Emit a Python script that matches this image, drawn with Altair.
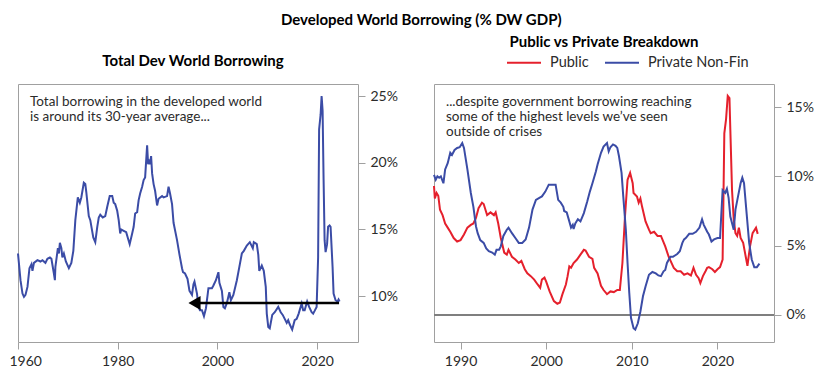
import altair as alt
import pandas as pd

BLUE = "#3B4CA6"
RED = "#E5202C"
FONT = "Lato"

# ---- Left panel: total developed-world borrowing (% GDP) ----
total_years = [1960.0, 1960.5, 1960.9, 1961.2, 1961.5, 1961.9, 1962.3, 1962.7, 1962.9, 1963.2,
               1963.9, 1964.5, 1964.9, 1965.5, 1965.9, 1966.4, 1966.7, 1967.2, 1967.4, 1967.5,
               1968.0, 1968.2, 1968.4, 1968.7, 1968.9, 1969.2, 1969.6, 1970.2, 1970.7, 1971.1,
               1971.5, 1972.0, 1972.4, 1972.7, 1973.2, 1973.5, 1973.7, 1974.2, 1974.5, 1975.1,
               1975.5, 1975.9, 1976.2, 1976.5, 1977.0, 1977.5, 1977.9, 1978.4, 1978.9, 1979.2,
               1979.5, 1979.9, 1980.2, 1980.5, 1980.7, 1981.2, 1981.7, 1982.4, 1982.9, 1983.2,
               1983.5, 1983.9, 1984.2, 1984.5, 1984.9, 1985.2, 1985.5, 1985.9, 1986.1, 1986.3,
               1986.5, 1986.7, 1986.9, 1987.2, 1987.5, 1987.9, 1988.2, 1988.9, 1989.2, 1989.9,
               1990.2, 1990.5, 1990.9, 1991.2, 1991.9, 1992.4, 1992.9, 1993.1, 1993.5, 1994.0,
               1994.4, 1994.9, 1995.2, 1995.4, 1995.9, 1996.2, 1996.5, 1996.9, 1997.3, 1997.7,
               1998.2, 1998.9, 1999.2, 1999.7, 2000.2, 2000.4, 2000.9, 2001.2, 2001.5, 2001.9,
               2002.4, 2002.7, 2003.2, 2003.9, 2004.4, 2004.9, 2005.3, 2005.9, 2006.5, 2007.1,
               2007.3, 2007.9, 2008.2, 2008.4, 2008.9, 2009.3, 2009.7, 2009.9, 2010.2, 2010.5,
               2011.0, 2011.5, 2012.2, 2012.7, 2013.1, 2013.5, 2013.9, 2014.2, 2014.5, 2015.0,
               2015.5, 2015.9, 2016.3, 2016.9, 2017.2, 2017.5, 2018.0, 2018.4, 2018.9, 2019.2,
               2019.5, 2019.9, 2020.2, 2020.4, 2020.7, 2020.9, 2021.1, 2021.3, 2021.5, 2021.7,
               2022.0, 2022.2, 2022.5, 2022.7, 2023.1, 2023.3, 2023.7, 2024.1, 2024.3, 2024.5]
total_vals = [13.2, 11.2, 10.2, 9.95, 10.1, 10.7, 12.1, 12.4, 11.9, 12.5,
              12.7, 12.6, 12.7, 12.5, 12.8, 12.9, 12.8, 11.7, 11.2, 12.2,
              13.6, 13.2, 14.0, 13.6, 12.9, 13.2, 12.6, 12.1, 12.5, 13.4,
              15.7, 17.4, 17.0, 17.4, 18.5, 18.4, 17.8, 16.0, 15.7, 14.4,
              14.05, 15.2, 15.9, 16.1, 15.9, 16.0, 16.7, 17.5, 17.5, 17.0,
              16.9, 16.4, 15.7, 14.7, 15.0, 14.9, 14.8, 13.9, 14.7, 15.2,
              16.2, 16.3, 17.2, 17.7, 18.2, 18.7, 18.9, 21.3, 19.9, 20.1,
              19.9, 20.5, 19.2, 18.4, 17.9, 16.8, 17.3, 17.5, 17.4, 17.5,
              18.2, 17.7, 16.9, 15.5, 14.2, 13.1, 12.1, 11.8, 11.7, 11.3,
              10.4, 10.1, 10.9, 11.1, 10.2, 9.2, 8.95, 8.95, 8.5, 9.1,
              10.6, 10.6, 10.8, 11.2, 11.8, 11.0, 10.4, 9.2, 9.1, 9.5,
              10.3, 9.7, 10.1, 11.2, 12.2, 13.2, 13.4, 13.8, 14.05, 13.6,
              14.05, 13.9, 13.1, 11.9, 12.3, 11.9, 10.7, 8.7, 7.7, 7.6,
              8.6, 8.8, 9.2, 8.8, 8.6, 8.3, 8.0, 8.2, 7.9, 7.5,
              8.2, 8.3, 8.7, 9.45, 8.95, 8.95, 9.6, 9.2, 8.8, 8.7,
              8.9, 9.2, 12.9, 22.5, 23.6, 25.0, 23.9, 18.7, 14.2, 13.3,
              13.9, 15.2, 15.3, 15.2, 12.2, 10.2, 9.7, 9.6, 9.75, 9.6]

# 30-year average arrow
arrow_from = [2024.4]
arrow_to = [1995.4]
arrow_level = [9.5]

# ---- Right panel: public vs private non-financial borrowing ----
pub_years = [1986.9, 1987.0, 1987.2, 1987.4, 1987.6, 1987.9, 1988.2, 1988.5, 1988.8, 1989.2,
             1989.6, 1990.0, 1990.4, 1990.8, 1991.2, 1991.5, 1991.8, 1992.1, 1992.5, 1992.7,
             1993.1, 1993.5, 1993.9, 1994.1, 1994.4, 1994.7, 1995.1, 1995.4, 1995.6, 1996.0,
             1996.4, 1996.8, 1997.1, 1997.5, 1997.8, 1998.2, 1998.6, 1999.0, 1999.3, 1999.5,
             1999.8, 2000.0, 2000.4, 2000.9, 2001.3, 2001.6, 2001.9, 2002.3, 2002.5, 2002.7,
             2002.9, 2003.2, 2003.6, 2004.0, 2004.4, 2004.6, 2005.0, 2005.4, 2005.6, 2006.0,
             2006.4, 2006.7, 2007.1, 2007.5, 2007.9, 2008.3, 2008.6, 2008.9, 2009.2, 2009.5,
             2009.8, 2010.1, 2010.2, 2010.6, 2010.8, 2011.0, 2011.2, 2011.6, 2012.0, 2012.2,
             2012.6, 2013.0, 2013.4, 2013.9, 2014.3, 2014.9, 2015.3, 2015.7, 2016.1, 2016.5,
             2016.9, 2017.2, 2017.5, 2017.8, 2018.0, 2018.3, 2018.6, 2018.8, 2019.0, 2019.4,
             2019.7, 2020.0, 2020.3, 2020.6, 2020.8, 2021.0, 2021.2, 2021.4, 2021.5, 2021.7,
             2021.9, 2022.1, 2022.3, 2022.5, 2022.7, 2023.0, 2023.3, 2023.5, 2023.8, 2024.1,
             2024.5, 2024.7]
pub_vals = [9.3, 8.4, 8.8, 8.6, 7.6, 7.2, 6.6, 6.3, 6.0, 5.55,
            5.3, 5.4, 5.8, 6.3, 6.5, 6.6, 7.0, 7.7, 8.1, 8.0,
            7.2, 7.4, 7.2, 7.4, 6.6, 5.55, 4.5, 4.35, 4.7, 4.2,
            4.0, 3.75, 3.9, 3.3, 3.0, 2.8, 2.55, 2.2, 1.95, 2.55,
            2.7, 2.4, 1.7, 1.0, 0.8, 0.9, 1.5, 2.2, 2.8, 3.5,
            3.4, 3.75, 4.0, 4.35, 4.7, 4.65, 4.2, 4.05, 3.4, 3.0,
            2.1, 1.8, 1.5, 1.7, 1.65, 1.8, 1.8, 3.75, 7.1, 9.75,
            10.25, 9.5, 8.8, 8.55, 8.1, 8.4, 7.8, 6.75, 6.15, 5.9,
            6.0, 5.7, 5.7, 4.95, 4.2, 3.4, 3.15, 3.15, 2.9, 3.0,
            2.85, 3.4, 2.9, 2.65, 2.3, 2.8, 3.15, 3.4, 3.45, 3.3,
            3.1, 3.3, 3.45, 4.0, 13.1, 14.1, 15.8, 15.65, 13.4, 9.0,
            6.9, 5.9, 5.7, 6.3, 5.55, 5.2, 4.2, 3.55, 4.95, 5.9,
            6.3, 5.85]

priv_years = [1986.9, 1987.1, 1987.3, 1987.5, 1987.7, 1988.0, 1988.2, 1988.5, 1988.8, 1989.0,
              1989.3, 1989.6, 1989.9, 1990.2, 1990.4, 1990.8, 1991.2, 1991.5, 1991.8, 1992.0,
              1992.3, 1992.7, 1993.0, 1993.3, 1993.7, 1994.0, 1994.2, 1994.5, 1994.7, 1995.0,
              1995.4, 1995.6, 1996.0, 1996.4, 1996.8, 1997.2, 1997.6, 1998.0, 1998.4, 1998.8,
              1999.2, 1999.5, 1999.9, 2000.3, 2000.7, 2001.1, 2001.4, 2001.7, 2002.0, 2002.1,
              2002.4, 2002.7, 2002.9, 2003.1, 2003.2, 2003.4, 2003.7, 2004.0, 2004.4, 2004.8,
              2005.1, 2005.4, 2005.8, 2006.0, 2006.4, 2006.7, 2007.1, 2007.3, 2007.5, 2007.8,
              2008.1, 2008.3, 2008.5, 2008.8, 2009.0, 2009.3, 2009.5, 2009.7, 2009.9, 2010.2,
              2010.4, 2010.7, 2011.0, 2011.3, 2011.6, 2012.0, 2012.4, 2012.8, 2013.1, 2013.4,
              2013.7, 2013.9, 2014.1, 2014.5, 2014.8, 2015.3, 2015.6, 2015.9, 2016.1, 2016.3,
              2016.7, 2017.1, 2017.5, 2017.9, 2018.2, 2018.4, 2018.8, 2019.0, 2019.3, 2019.6,
              2020.0, 2020.3, 2020.6, 2020.9, 2021.1, 2021.3, 2021.5, 2021.9, 2022.1, 2022.4,
              2022.7, 2022.9, 2023.1, 2023.4, 2023.7, 2024.0, 2024.3, 2024.6, 2024.9]
priv_vals = [10.1, 9.75, 10.0, 9.9, 10.0, 9.5, 10.5, 10.95, 11.7, 11.55,
             11.9, 12.05, 12.1, 12.4, 12.05, 10.5, 8.8, 7.8, 6.4, 5.9,
             5.4, 5.2, 4.8, 4.6, 4.5, 4.35, 4.7, 4.7, 4.95, 5.7,
             6.15, 6.3, 5.9, 5.55, 5.2, 5.2, 5.45, 6.3, 7.6, 8.3,
             8.45, 8.55, 8.9, 9.4, 9.4, 9.4, 8.3, 8.1, 7.8, 7.5,
             7.4, 6.75, 6.3, 6.5, 6.2, 6.6, 6.9, 6.75, 7.35, 8.2,
             8.9, 9.5, 10.35, 10.85, 11.7, 12.15, 12.4, 11.8, 12.1, 12.3,
             12.2, 12.05, 11.45, 10.25, 8.55, 6.15, 3.75, 1.6, -0.2, -0.95,
             -1.05, -0.6, 0.25, 1.35, 2.05, 2.9, 3.1, 3.0, 2.85, 2.8,
             3.15, 3.25, 3.75, 4.2, 4.2, 4.4, 4.6, 5.2, 5.45, 5.55,
             5.85, 5.85, 6.0, 6.3, 6.9, 6.5, 6.0, 5.8, 5.3, 5.45,
             5.55, 5.55, 9.0, 8.8, 9.1, 8.45, 7.1, 6.15, 7.6, 8.55,
             9.5, 9.9, 9.5, 7.35, 5.2, 4.0, 3.45, 3.45, 3.7]

series_names = ["Public", "Private Non-Fin"]

left_note = ["Total borrowing in the developed world", "is around its 30-year average..."]
right_note = ["...despite government borrowing reaching",
              "some of the highest levels we\u2019ve seen", "outside of crises"]

W, H = 340, 258

# ---------------- left chart ----------------
total_df = pd.DataFrame({"year": total_years, "value": total_vals})
arrow_df = pd.DataFrame({"x": arrow_to, "x2": arrow_from, "y": arrow_level})

xl_scale = alt.Scale(domain=[1960, 2028.2], nice=False, zero=False)
yl_scale = alt.Scale(domain=[6.57, 25.9], nice=False, zero=False)
xl_axis = alt.Axis(values=[1960, 1980, 2000, 2020], format="d", title=None,
                   labelFlush=True, labelFlushOffset=9)
yl_axis = alt.Axis(orient="right", values=[10, 15, 20, 25], title=None,
                   labelExpr="datum.value + '%'")

left_line = alt.Chart(total_df).mark_line(color=BLUE, strokeWidth=2).encode(
    x=alt.X("year:Q", scale=xl_scale, axis=xl_axis),
    y=alt.Y("value:Q", scale=yl_scale, axis=yl_axis),
)
arrow_rule = alt.Chart(arrow_df).mark_rule(color="black", strokeWidth=2.5).encode(
    x=alt.X("x:Q", scale=xl_scale, axis=xl_axis),
    x2="x2:Q",
    y=alt.Y("y:Q", scale=yl_scale, axis=yl_axis),
)
arrow_head = alt.Chart(arrow_df).mark_point(
    shape="triangle-left", size=196, filled=True, color="black", opacity=1
).encode(
    x=alt.X("x:Q", scale=xl_scale, axis=xl_axis),
    y=alt.Y("y:Q", scale=yl_scale, axis=yl_axis),
)
left_text = alt.Chart(pd.DataFrame({"t": ["\n".join(left_note)]})).mark_text(
    align="left", baseline="alphabetic", lineBreak="\n", font=FONT, fontSize=13.5,
    lineHeight=15, color="#2b2b2b"
).encode(x=alt.value(12), y=alt.value(21.5), text="t:N")

left = alt.layer(left_line, arrow_rule, arrow_head, left_text).properties(
    width=W, height=H,
    title=alt.Title("Total Dev World Borrowing", offset=15, fontSize=15, font=FONT,
                    fontWeight="bold", color="black", anchor="middle", dx=5),
)

# ---------------- right chart ----------------
pp_df = pd.concat([
    pd.DataFrame({"year": pub_years, "value": pub_vals, "series": series_names[0]}),
    pd.DataFrame({"year": priv_years, "value": priv_vals, "series": series_names[1]}),
], ignore_index=True)

xr_scale = alt.Scale(domain=[1986.9, 2026.6], nice=False, zero=False)
yr_scale = alt.Scale(domain=[-1.95, 16.66], nice=False, zero=False)
xr_axis = alt.Axis(values=[1990, 2000, 2010, 2020], format="d", title=None)
yr_axis = alt.Axis(orient="right", values=[0, 5, 10, 15], title=None,
                   labelExpr="datum.value + '%'")

zero_rule = alt.Chart(pd.DataFrame({"y": [0]})).mark_rule(color="#7f7f7f", strokeWidth=2).encode(
    y=alt.Y("y:Q", scale=yr_scale, axis=yr_axis)
)
right_lines = alt.Chart(pp_df).mark_line(strokeWidth=2).encode(
    x=alt.X("year:Q", scale=xr_scale, axis=xr_axis),
    y=alt.Y("value:Q", scale=yr_scale, axis=yr_axis),
    color=alt.Color(
        "series:N",
        scale=alt.Scale(domain=series_names, range=[RED, BLUE]),
        sort=series_names,
        legend=alt.Legend(orient="none", legendX=72, legendY=-39.5, direction="horizontal",
                          title=None, symbolType="stroke", symbolSize=1156,
                          symbolStrokeWidth=2, labelFontSize=14.5, labelFont=FONT,
                          labelColor="#2b2b2b", labelOffset=8, columnPadding=12, padding=0),
    ),
)
right_text = alt.Chart(pd.DataFrame({"t": ["\n".join(right_note)]})).mark_text(
    align="left", baseline="alphabetic", lineBreak="\n", font=FONT, fontSize=13.5,
    lineHeight=15, color="#2b2b2b"
).encode(x=alt.value(12), y=alt.value(21.5), text="t:N")

right = alt.layer(zero_rule, right_lines, right_text).properties(
    width=W, height=H,
    title=alt.Title("Public vs Private Breakdown", offset=-5, fontSize=15, font=FONT,
                    fontWeight="bold", color="black", anchor="middle"),
)

chart = alt.hconcat(left, right, spacing=76, bounds="flush").resolve_legend(
    color="independent"
).resolve_scale(
    color="independent"
).properties(
    title=alt.Title("Developed World Borrowing (% DW GDP)", offset=6, fontSize=15,
                    font=FONT, fontWeight="bold", color="black", anchor="middle", dx=10),
    padding={"left": 0, "top": 5, "right": 5, "bottom": 5},
).configure_view(
    stroke="#a0a0a0", strokeWidth=1
).configure_axis(
    domain=False, grid=False, ticks=True, tickColor="#a0a0a0", tickSize=7,
    labelFont=FONT, labelFontSize=14, labelColor="#2b2b2b", labelPadding=5,
).configure_text(font=FONT)

chart.save("out.html", embed_options={"renderer": "svg", "actions": False})
